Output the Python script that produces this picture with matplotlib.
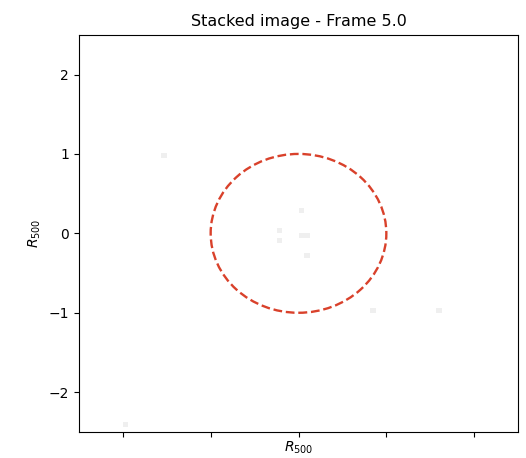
import numpy as np
import matplotlib.pyplot as plt
from matplotlib.patches import Circle

# Stacked map: a few faint pixels on an empty 80x80 grid
extent = (-2.5, 2.5, -2.5, 2.5)
n_pix = 80
pix_x = [-1.53, 0.02, -0.22, -0.22, 0.05, 0.11, 0.09, 0.85, 1.59, -1.95]
pix_y = [0.98, 0.30, 0.05, -0.08, -0.01, -0.01, -0.27, -0.96, -0.96, -2.38]
pix_val = [0.13, 0.13, 0.13, 0.13, 0.13, 0.13, 0.13, 0.13, 0.13, 0.13]

circle_center = (0.0, 0.0)
circle_radius = 1.0

ticks = [-2, -1, 0, 1, 2]

# Build the image from the pixel list
step = (extent[1] - extent[0]) / n_pix
img = np.zeros((n_pix, n_pix))
for x, y, v in zip(pix_x, pix_y, pix_val):
    i = int((y - extent[2]) / step)
    j = int((x - extent[0]) / step)
    img[i, j] = v

fig = plt.figure(figsize=(5.26, 4.58), dpi=100)
ax = fig.add_axes([0.150, 0.057, 0.835, 0.867])
ax.imshow(img, origin='lower', extent=extent, cmap='Greys', vmin=0, vmax=1,
          aspect='auto', interpolation='nearest')

ring = Circle(circle_center, circle_radius, fill=False, color='#d9412b',
              linestyle='--', linewidth=1.7)
ax.add_patch(ring)

ax.set_xlim(extent[0], extent[1])
ax.set_ylim(extent[2], extent[3])
ax.set_xticks(ticks)
ax.tick_params(axis='x', labelbottom=False)
ax.set_yticks(ticks)
ax.set_title('Stacked image - Frame 5.0', fontsize=11.5)
ax.set_xlabel('$R_{500}$', labelpad=2)
ax.set_ylabel('$R_{500}$')

fig.savefig('out.png', dpi=100)
